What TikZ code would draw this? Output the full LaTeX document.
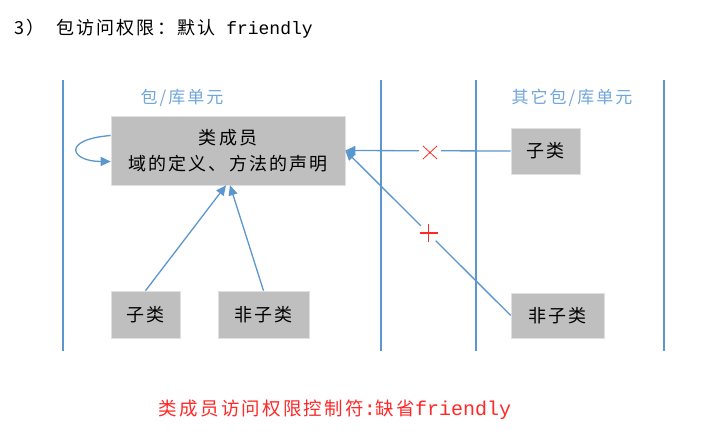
\documentclass[tikz,border=0pt]{standalone}
\usepackage{fontspec}
\setmainfont{Noto Sans CJK SC}
\setmonofont{Liberation Mono}
\newfontfamily\cjk{Noto Sans CJK SC}[LetterSpace=12]
\usetikzlibrary{arrows.meta}
\definecolor{divblue}{RGB}{91,150,206}
\definecolor{lblblue}{RGB}{112,166,218}
\definecolor{boxgray}{RGB}{191,191,191}
\definecolor{markred}{RGB}{255,40,40}

\begin{document}
\begin{tikzpicture}[
                    x=1pt, y=-1pt,
                    font=\cjk\fontsize{18}{26}\selectfont,
                    >={Triangle[length=10pt,width=9pt]},
                    cls/.style={fill=boxgray, draw=black!12, line width=0.6pt, inner sep=0pt, align=center},
                    link/.style={->, draw=divblue, line width=1.3pt},
                    unit/.style={text=lblblue, font=\cjk\fontsize{17}{20}\selectfont}
                ]
                    \useasboundingbox (0,0) rectangle (703,434);
                    % title
                    \node[anchor=west, inner sep=0pt] (title) at (14,29)
                        {3）\hspace{12pt}包访问权限：默认{\ttfamily\fontsize{18}{20}\selectfont\ friendly}};
                    % package boundaries
                    \foreach \x in {63,381,476,664}
                        \draw[divblue, line width=1.6pt] (\x,80) -- (\x,351);
                    \node[unit] (own) at (182,98) {包/库单元};
                    \node[unit] (other) at (572,98) {其它包/库单元};
                    % classes
                    \node[cls, minimum width=234pt, minimum height=69pt] (member) at (228,150.5)
                        {类成员\\域的定义、方法的声明};
                    \node[cls, minimum width=69pt, minimum height=47pt] (subin) at (145.5,314.5) {子类};
                    \node[cls, minimum width=91pt, minimum height=47pt] (othin) at (263.5,314.5) {非子类};
                    \node[cls, minimum width=69pt, minimum height=46pt] (subout) at (545.5,151) {子类};
                    \node[cls, minimum width=93pt, minimum height=45pt] (othout) at (557.5,315.5) {非子类};
                    % access
                    \draw[link] ([yshift=15pt]member.west) .. controls +(-50,4) and +(-40,0) .. ([yshift=-11pt]member.west);
                    \draw[link] (subin.north) -- ([xshift=-2pt]member.south);
                    \draw[link] (othin.north) -- ([xshift=2pt]member.south);
                    \draw[link] (subout.west) -- (member.east);
                    \draw[link] (othout.west) -- (member.east);
                    % marks
                    \node[fill=white, inner sep=0pt, minimum width=22pt, minimum height=10pt] (no) at (430,152.5) {};
                    \draw[markred, line width=0.8pt] ([shift={(-7,-6.5)}]no.center) -- ([shift={(7,6.5)}]no.center)
                        ([shift={(-7,6.5)}]no.center) -- ([shift={(7,-6.5)}]no.center);
                    \node[fill=white, circle, inner sep=0pt, minimum size=21pt] (yes) at (428.5,233) {};
                    \draw[markred, line width=1.1pt] ([xshift=-9pt]yes.center) -- ([xshift=9pt]yes.center)
                        ([yshift=-9pt]yes.center) -- ([yshift=9pt]yes.center);
                    % caption
                    \node[text=markred, inner sep=0pt] (note) at (335,410)
                        {\fontsize{18.5}{22}\selectfont 类成员访问权限控制符{\ttfamily\fontsize{20}{22}\selectfont:}缺省{\ttfamily\fontsize{20}{22}\selectfont friendly}};
                \end{tikzpicture}
\end{document}
